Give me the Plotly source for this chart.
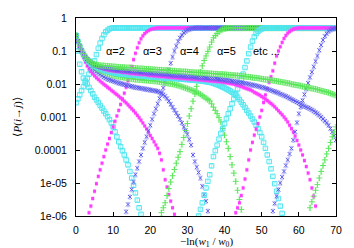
import plotly.graph_objects as go

# ---------- data: log10 <P(i->j)>, one value every 0.5 in -ln(w1/w0) ----------
STEP = 0.5

# rising curves (first x given by *_x0)
rise_a2_x0 = 0
rise_a2 = [-2.57, -2.45, -2.33, -2.20, -2.08, -1.96, -1.83, -1.70, -1.57, -1.44,
           -1.30, -1.11, -0.92, -0.76, -0.62, -0.51, -0.42, -0.37, -0.33, -0.31,
           -0.30,
           -0.30, -0.30, -0.30, -0.30, -0.30, -0.30, -0.30, -0.30, -0.30, -0.30,
           -0.30, -0.30, -0.30, -0.30, -0.30, -0.30, -0.30, -0.30, -0.30, -0.30,
           -0.30, -0.30, -0.30, -0.30, -0.30, -0.30, -0.30, -0.30, -0.30, -0.30,
           -0.30, -0.30, -0.30, -0.30, -0.30, -0.30, -0.30, -0.30, -0.30, -0.30,
           -0.30, -0.30, -0.30, -0.30, -0.30, -0.30, -0.30, -0.30, -0.30, -0.30,
           -0.30, -0.30, -0.30, -0.30, -0.30, -0.30, -0.30, -0.30, -0.30, -0.30,
           -0.30, -0.30, -0.30, -0.30, -0.30, -0.30, -0.30, -0.30, -0.30, -0.30,
           -0.30, -0.30, -0.30, -0.30, -0.30, -0.30, -0.30, -0.30, -0.30, -0.30,
           -0.30, -0.30, -0.30, -0.30, -0.30, -0.30, -0.30, -0.30, -0.30, -0.30,
           -0.30, -0.30, -0.30, -0.30, -0.30, -0.30, -0.30, -0.30, -0.30, -0.30,
           -0.30, -0.30, -0.30, -0.30, -0.30, -0.30, -0.30, -0.30, -0.30, -0.30,
           -0.30, -0.30, -0.30, -0.30, -0.30, -0.30, -0.30, -0.30, -0.30, -0.30]
rise_a3_x0 = 3
rise_a3 = [-6.10, -5.90, -5.70, -5.47, -5.25, -5.02, -4.80, -4.60, -4.40, -4.20,
           -4.00, -3.82, -3.65, -3.47, -3.30, -3.13, -2.97, -2.80, -2.62, -2.45,
           -2.28, -2.10, -1.90, -1.69, -1.47, -1.26, -1.07, -0.90, -0.75, -0.63,
           -0.54, -0.47, -0.42, -0.38, -0.35, -0.33, -0.32, -0.31,
           -0.30, -0.30, -0.30, -0.30, -0.30, -0.30, -0.30, -0.30, -0.30, -0.30,
           -0.30, -0.30, -0.30, -0.30, -0.30, -0.30, -0.30, -0.30, -0.30, -0.30,
           -0.30, -0.30, -0.30, -0.30, -0.30, -0.30, -0.30, -0.30, -0.30, -0.30,
           -0.30, -0.30, -0.30, -0.30, -0.30, -0.30, -0.30, -0.30, -0.30, -0.30,
           -0.30, -0.30, -0.30, -0.30, -0.30, -0.30, -0.30, -0.30, -0.30, -0.30,
           -0.30, -0.30, -0.30, -0.30, -0.30, -0.30, -0.30, -0.30, -0.30, -0.30,
           -0.30, -0.30, -0.30, -0.30, -0.30, -0.30, -0.30, -0.30, -0.30, -0.30,
           -0.30, -0.30, -0.30, -0.30, -0.30, -0.30, -0.30, -0.30, -0.30, -0.30,
           -0.30, -0.30, -0.30, -0.30, -0.30, -0.30, -0.30, -0.30, -0.30, -0.30,
           -0.30, -0.30, -0.30, -0.30, -0.30, -0.30, -0.30]
rise_a4_x0 = 13
rise_a4 = [-6.10, -5.87, -5.65, -5.42, -5.20, -4.97, -4.75, -4.55, -4.35, -4.15,
           -3.95, -3.77, -3.60, -3.42, -3.25, -3.07, -2.90, -2.75, -2.60, -2.44,
           -2.28, -2.12, -1.95, -1.76, -1.57, -1.37, -1.18, -1.00, -0.85, -0.71,
           -0.60, -0.52, -0.45, -0.40, -0.36, -0.34, -0.32, -0.31,
           -0.30, -0.30, -0.30, -0.30, -0.30, -0.30, -0.30, -0.30, -0.30, -0.30,
           -0.30, -0.30, -0.30, -0.30, -0.30, -0.30, -0.30, -0.30, -0.30, -0.30,
           -0.30, -0.30, -0.30, -0.30, -0.30, -0.30, -0.30, -0.30, -0.30, -0.30,
           -0.30, -0.30, -0.30, -0.30, -0.30, -0.30, -0.30, -0.30, -0.30, -0.30,
           -0.30, -0.30, -0.30, -0.30, -0.30, -0.30, -0.30, -0.30, -0.30, -0.30,
           -0.30, -0.30, -0.30, -0.30, -0.30, -0.30, -0.30, -0.30, -0.30, -0.30,
           -0.30, -0.30, -0.30, -0.30, -0.30, -0.30, -0.30, -0.30, -0.30, -0.30,
           -0.30, -0.30, -0.30, -0.30, -0.30, -0.30, -0.30]
rise_a5_x0 = 23
rise_a5 = [-5.90, -5.75, -5.60, -5.38, -5.17, -4.97, -4.78, -4.59, -4.40, -4.22,
           -4.05, -3.83, -3.62, -3.41, -3.20, -2.97, -2.75, -2.52, -2.30, -2.07,
           -1.85, -1.64, -1.45, -1.29, -1.15, -1.01, -0.88, -0.73, -0.60, -0.53,
           -0.47, -0.41, -0.37, -0.34, -0.32, -0.31,
           -0.30, -0.30, -0.30, -0.30, -0.30, -0.30, -0.30, -0.30, -0.30, -0.30,
           -0.30, -0.30, -0.30, -0.30, -0.30, -0.30, -0.30, -0.30, -0.30, -0.30,
           -0.30, -0.30, -0.30, -0.30, -0.30, -0.30, -0.30, -0.30, -0.30, -0.30,
           -0.30, -0.30, -0.30, -0.30, -0.30, -0.30, -0.30, -0.30, -0.30, -0.30,
           -0.30, -0.30, -0.30, -0.30, -0.30, -0.30, -0.30, -0.30, -0.30, -0.30,
           -0.30, -0.30, -0.30, -0.30, -0.30, -0.30, -0.30, -0.30, -0.30]
rise_a6_x0 = 33
rise_a6 = [-6.00, -5.80, -5.60, -5.37, -5.15, -4.95, -4.75, -4.48, -4.20, -4.02,
           -3.85, -3.67, -3.50, -3.35, -3.20, -3.05, -2.90, -2.75, -2.60, -2.45,
           -2.30, -2.15, -2.00, -1.85, -1.70, -1.50, -1.30, -1.08, -0.88, -0.70,
           -0.57, -0.47, -0.40, -0.36, -0.33, -0.31,
           -0.30, -0.30, -0.30, -0.30, -0.30, -0.30, -0.30, -0.30, -0.30, -0.30,
           -0.30, -0.30, -0.30, -0.30, -0.30, -0.30, -0.30, -0.30, -0.30, -0.30,
           -0.30, -0.30, -0.30, -0.30, -0.30, -0.30, -0.30, -0.30, -0.30, -0.30,
           -0.30, -0.30, -0.30, -0.30, -0.30, -0.30, -0.30, -0.30, -0.30]
rise_a7_x0 = 43
rise_a7 = [-5.90, -5.75, -5.60, -5.38, -5.15, -4.88, -4.60, -4.30, -4.00, -3.77,
           -3.55, -3.37, -3.20, -3.00, -2.80, -2.56, -2.33, -2.14, -1.95, -1.78,
           -1.60, -1.37, -1.15, -1.00, -0.87, -0.74, -0.62, -0.53, -0.46, -0.41,
           -0.37, -0.34, -0.32, -0.31,
           -0.30, -0.30, -0.30, -0.30, -0.30, -0.30, -0.30, -0.30, -0.30, -0.30,
           -0.30, -0.30, -0.30, -0.30, -0.30, -0.30, -0.30, -0.30, -0.30, -0.30,
           -0.30]
rise_a8_x0 = 53
rise_a8 = [-5.85, -5.62, -5.40, -5.20, -5.00, -4.82, -4.65, -4.47, -4.30, -4.12,
           -3.95, -3.70, -3.45, -3.17, -2.90, -2.70, -2.50, -2.32, -2.15, -1.97,
           -1.80, -1.64, -1.48, -1.31, -1.15, -0.98, -0.82, -0.67, -0.55, -0.47,
           -0.40, -0.36, -0.33, -0.32, -0.31]
rise_a9_x0 = 63
rise_a9 = [-5.75, -5.57, -5.40, -5.22, -5.05, -4.85, -4.65, -4.47, -4.30, -4.12,
           -3.95, -3.77, -3.60, -3.45, -3.30]

# falling curves, all start at x = 0
fall_a2 = [-0.53, -1.00, -1.40, -1.63, -1.82, -1.91, -2.00, -2.10, -2.20, -2.30,
           -2.40, -2.48, -2.56, -2.65, -2.73, -2.82, -2.90, -2.99, -3.08, -3.18,
           -3.30, -3.45, -3.60, -3.75, -3.90, -4.02, -4.15, -4.30, -4.45, -4.65,
           -4.85, -5.07, -5.30, -5.52, -5.75, -5.95]
fall_a3 = [-0.53, -0.72, -0.90, -1.05, -1.20, -1.33, -1.45, -1.54, -1.62, -1.69,
           -1.75, -1.81, -1.86, -1.91, -1.96, -2.01, -2.05, -2.10, -2.14, -2.19,
           -2.23, -2.28, -2.32, -2.37, -2.42, -2.47, -2.52, -2.57, -2.63, -2.69,
           -2.75, -2.81, -2.88, -2.95, -3.02, -3.10, -3.18, -3.27, -3.36, -3.46,
           -3.56, -3.65, -3.75, -3.85, -3.95, -4.10, -4.30, -4.60, -4.90, -5.12,
           -5.35, -5.55, -5.75, -5.95]
fall_a4 = [-0.53, -0.71, -0.87, -1.01, -1.13, -1.23, -1.32, -1.40, -1.47, -1.53,
           -1.58, -1.63, -1.67, -1.71, -1.75, -1.79, -1.82, -1.85, -1.87, -1.89,
           -1.91, -1.93, -1.95, -1.97, -1.98, -2.00, -2.01, -2.03, -2.04, -2.06,
           -2.07, -2.09, -2.10, -2.11, -2.12, -2.13, -2.14, -2.15, -2.16, -2.17,
           -2.18, -2.19, -2.20, -2.21, -2.22, -2.25, -2.28, -2.32, -2.37, -2.44,
           -2.52, -2.61, -2.70, -2.79, -2.88, -2.97, -3.07, -3.18, -3.30, -3.41,
           -3.52, -3.68, -3.85, -4.15, -4.35, -4.52, -4.68, -4.85, -5.10, -5.35,
           -5.55, -5.85]
fall_a5 = [-0.53, -0.71, -0.86, -1.00, -1.11, -1.20, -1.28, -1.35, -1.40, -1.45,
           -1.49, -1.53, -1.56, -1.59, -1.62, -1.64, -1.66, -1.68, -1.70, -1.72,
           -1.73, -1.75, -1.76, -1.77, -1.78, -1.79, -1.80, -1.81, -1.82, -1.83,
           -1.84, -1.85, -1.86, -1.86, -1.87, -1.87, -1.88, -1.88, -1.89, -1.89,
           -1.90, -1.90, -1.91, -1.91, -1.92, -1.93, -1.94, -1.95, -1.96, -1.97,
           -1.98, -1.99, -2.00, -2.01, -2.03, -2.04, -2.06, -2.08, -2.10, -2.12,
           -2.14, -2.16, -2.18, -2.20, -2.22, -2.25, -2.28, -2.31, -2.35, -2.39,
           -2.43, -2.47, -2.51, -2.60, -2.70, -2.80, -2.90, -3.02, -3.15, -3.35,
           -3.55, -3.75, -3.95, -4.20, -4.45, -4.70, -4.95, -5.22, -5.50, -5.80]
fall_a6 = [-0.53, -0.71, -0.86, -0.99, -1.10, -1.19, -1.26, -1.32, -1.37, -1.41,
           -1.45, -1.48, -1.51, -1.54, -1.56, -1.58, -1.60, -1.62, -1.63, -1.65,
           -1.66, -1.67, -1.68, -1.69, -1.70, -1.70, -1.71, -1.71, -1.72, -1.72,
           -1.73, -1.73, -1.74, -1.74, -1.75, -1.75, -1.76, -1.76, -1.77, -1.77,
           -1.78, -1.78, -1.79, -1.79, -1.80, -1.80, -1.81, -1.81, -1.82, -1.82,
           -1.82, -1.83, -1.83, -1.83, -1.84, -1.84, -1.85, -1.85, -1.86, -1.86,
           -1.87, -1.87, -1.88, -1.88, -1.89, -1.89, -1.90, -1.90, -1.91, -1.92,
           -1.93, -1.94, -1.95, -1.96, -1.98, -2.00, -2.02, -2.04, -2.07, -2.09,
           -2.12, -2.15, -2.18, -2.21, -2.25, -2.29, -2.34, -2.40, -2.47, -2.55,
           -2.63, -2.71, -2.80, -2.88, -2.97, -3.06, -3.15, -3.25, -3.35, -3.47,
           -3.60, -3.77, -3.95, -4.15, -4.35, -4.57, -4.80, -5.02, -5.25, -5.47,
           -5.70, -5.92]
fall_a7 = [-0.53, -0.70, -0.85, -0.98, -1.09, -1.18, -1.25, -1.30, -1.35, -1.39,
           -1.43, -1.46, -1.48, -1.50, -1.52, -1.54, -1.55, -1.57, -1.58, -1.59,
           -1.60, -1.61, -1.62, -1.62, -1.63, -1.64, -1.65, -1.65, -1.66, -1.67,
           -1.68, -1.68, -1.69, -1.69, -1.70, -1.70, -1.71, -1.71, -1.72, -1.73,
           -1.74, -1.74, -1.75, -1.75, -1.76, -1.76, -1.77, -1.77, -1.78, -1.78,
           -1.79, -1.79, -1.80, -1.80, -1.81, -1.81, -1.82, -1.82, -1.83, -1.83,
           -1.84, -1.84, -1.85, -1.85, -1.86, -1.86, -1.87, -1.87, -1.88, -1.88,
           -1.89, -1.89, -1.90, -1.90, -1.91, -1.91, -1.92, -1.92, -1.93, -1.94,
           -1.95, -1.96, -1.97, -1.98, -1.99, -2.00, -2.02, -2.03, -2.05, -2.07,
           -2.10, -2.12, -2.14, -2.16, -2.18, -2.21, -2.25, -2.28, -2.31, -2.34,
           -2.38, -2.42, -2.46, -2.50, -2.55, -2.59, -2.64, -2.69, -2.75, -2.81,
           -2.87, -2.93, -3.00, -3.07, -3.15, -3.25, -3.35, -3.46, -3.58, -3.71,
           -3.85, -4.00, -4.15, -4.32, -4.50, -4.70, -4.90, -5.15, -5.40, -5.70]
fall_a8 = [-0.53, -0.70, -0.85, -0.98, -1.09, -1.17, -1.24, -1.29, -1.34, -1.38,
           -1.42, -1.44, -1.46, -1.48, -1.49, -1.51, -1.52, -1.53, -1.54, -1.55,
           -1.56, -1.57, -1.58, -1.58, -1.59, -1.59, -1.60, -1.60, -1.61, -1.61,
           -1.62, -1.62, -1.63, -1.63, -1.64, -1.64, -1.65, -1.65, -1.66, -1.66,
           -1.67, -1.67, -1.68, -1.68, -1.69, -1.69, -1.70, -1.70, -1.71, -1.71,
           -1.72, -1.72, -1.73, -1.73, -1.74, -1.74, -1.75, -1.75, -1.76, -1.76,
           -1.77, -1.77, -1.78, -1.78, -1.79, -1.79, -1.80, -1.80, -1.81, -1.81,
           -1.82, -1.82, -1.83, -1.83, -1.84, -1.84, -1.85, -1.85, -1.86, -1.87,
           -1.88, -1.88, -1.89, -1.90, -1.91, -1.92, -1.93, -1.94, -1.95, -1.96,
           -1.97, -1.98, -1.99, -2.00, -2.02, -2.03, -2.04, -2.05, -2.07, -2.08,
           -2.10, -2.11, -2.13, -2.15, -2.17, -2.19, -2.21, -2.23, -2.25, -2.27,
           -2.30, -2.32, -2.35, -2.37, -2.40, -2.43, -2.46, -2.49, -2.52, -2.55,
           -2.58, -2.61, -2.64, -2.67, -2.70, -2.72, -2.75, -2.78, -2.82, -2.86,
           -2.90, -2.95, -3.00, -3.06, -3.12, -3.18, -3.25, -3.35, -3.45, -3.57,
           -3.70]
fall_a9 = [-0.53, -0.70, -0.84, -0.97, -1.08, -1.16, -1.23, -1.28, -1.33, -1.37,
           -1.40, -1.41, -1.42, -1.43, -1.44, -1.44, -1.45, -1.45, -1.46, -1.46,
           -1.47, -1.47, -1.48, -1.48, -1.49, -1.49, -1.49, -1.50, -1.50, -1.50,
           -1.51, -1.51, -1.52, -1.52, -1.53, -1.53, -1.53, -1.54, -1.54, -1.54,
           -1.55, -1.55, -1.56, -1.56, -1.57, -1.57, -1.57, -1.58, -1.58, -1.58,
           -1.59, -1.59, -1.60, -1.60, -1.61, -1.61, -1.61, -1.62, -1.62, -1.62,
           -1.63, -1.63, -1.64, -1.64, -1.65, -1.65, -1.65, -1.66, -1.66, -1.66,
           -1.67, -1.67, -1.68, -1.68, -1.69, -1.69, -1.69, -1.70, -1.70, -1.70,
           -1.71, -1.71, -1.72, -1.72, -1.73, -1.73, -1.74, -1.74, -1.75, -1.75,
           -1.76, -1.77, -1.78, -1.78, -1.79, -1.80, -1.81, -1.81, -1.82, -1.83,
           -1.84, -1.85, -1.86, -1.86, -1.87, -1.88, -1.89, -1.90, -1.91, -1.92,
           -1.93, -1.94, -1.95, -1.96, -1.97, -1.98, -2.00, -2.01, -2.02, -2.03,
           -2.04, -2.05, -2.07, -2.08, -2.09, -2.10, -2.12, -2.13, -2.14, -2.15,
           -2.17, -2.18, -2.20, -2.21, -2.23, -2.24, -2.26, -2.28, -2.30, -2.32,
           -2.34]

# relative statistical error (percent) read from the error-bar heights, per colour
err_pct = {"cyan": 10, "mag": 12, "blue": 15, "green": 18}

y_tickvals = [1e-6, 1e-5, 1e-4, 1e-3, 1e-2, 1e-1, 1]
y_ticktext = ["1e-06", "1e-05", "0.0001", "0.001", "0.01", "0.1", "1"]
x_tickvals = [0, 10, 20, 30, 40, 50, 60, 70]
alpha_labels = ["\u03b1=2", "\u03b1=3", "\u03b1=4", "\u03b1=5", "etc ..."]
alpha_label_x = [10.7, 20.6, 30.5, 40.5, 51.2]

# ---------- styles ----------
CYAN = "rgb(80,230,240)"
MAG = "rgb(255,60,255)"
BLUE = "rgb(90,90,240)"
GREEN = "rgb(90,230,90)"
ERRC = {"cyan": "rgba(80,230,240,0.6)", "mag": "rgba(255,90,255,0.55)",
        "blue": "rgba(110,110,240,0.55)", "green": "rgba(100,230,100,0.6)"}
style = {
    "cyan": dict(symbol="square-open", size=4.5, color=CYAN, line=dict(width=1, color=CYAN)),
    "mag": dict(symbol="square", size=3, color=MAG, line=dict(width=0)),
    "blue": dict(symbol="x-thin", size=3.8, color=BLUE, line=dict(width=1, color=BLUE)),
    "green": dict(symbol="cross-thin", size=4.2, color=GREEN, line=dict(width=1, color=GREEN)),
}

series = [
    (fall_a2, 0, "cyan"), (rise_a2, rise_a2_x0, "cyan"),
    (fall_a3, 0, "mag"), (rise_a3, rise_a3_x0, "mag"),
    (fall_a4, 0, "blue"), (rise_a4, rise_a4_x0, "blue"),
    (fall_a5, 0, "green"), (rise_a5, rise_a5_x0, "green"),
    (fall_a6, 0, "cyan"), (rise_a6, rise_a6_x0, "cyan"),
    (fall_a7, 0, "mag"), (rise_a7, rise_a7_x0, "mag"),
    (fall_a8, 0, "blue"), (rise_a8, rise_a8_x0, "blue"),
    (fall_a9, 0, "green"), (rise_a9, rise_a9_x0, "green"),
]

fig = go.Figure()
for vals, x0, st in series:
    xs = [x0 + STEP * i for i in range(len(vals))]
    ys = [10 ** v for v in vals]
    fig.add_trace(go.Scatter(x=xs, y=ys, mode="markers", marker=style[st],
                             error_y=dict(type="percent", value=err_pct[st], color=ERRC[st],
                                          thickness=0.7, width=1.5),
                             showlegend=False, hoverinfo="skip", cliponaxis=True))

axis_common = dict(showline=True, linecolor="black", linewidth=1, mirror="ticks",
                   ticks="inside", ticklen=4, tickcolor="black", showgrid=False,
                   zeroline=False,
                   tickfont=dict(family="Liberation Sans, Arial", size=10.5, color="black"))
fig.update_xaxes(range=[0, 70], tickmode="array", tickvals=x_tickvals,
                 ticklabelstandoff=4, **axis_common)
fig.update_yaxes(type="log", range=[-6, 0], tickmode="array", tickvals=y_tickvals,
                 ticktext=y_ticktext, ticklabelstandoff=6, **axis_common)

for t, xv in zip(alpha_labels, alpha_label_x):
    fig.add_annotation(x=xv, y=-1, xref="x", yref="y", text=t, showarrow=False,
                       font=dict(family="Liberation Sans, Arial", size=11, color="black"))

fig.add_annotation(xref="paper", yref="paper", x=0.5, y=0, yanchor="top", yshift=-17,
                   text="\u2212ln(<i>w</i><sub>1</sub> / <i>w</i><sub>0</sub>)", showarrow=False,
                   font=dict(family="Liberation Serif, Times New Roman", size=11, color="black"))
fig.add_annotation(xref="paper", yref="paper", x=0, y=0.5, xshift=-68, textangle=-90,
                   text="\u27e8<i>P</i>(<i>i</i>\u2192<i>j</i>)\u27e9", showarrow=False,
                   font=dict(family="Liberation Serif, Times New Roman", size=11, color="black"))

fig.update_layout(width=354, height=248, margin=dict(l=76, r=18, t=13, b=32),
                  paper_bgcolor="white", plot_bgcolor="white")
fig.write_html("out.html", config={"displayModeBar": False},
               post_script="document.body.style.margin='0px';document.body.style.overflow='hidden';")
